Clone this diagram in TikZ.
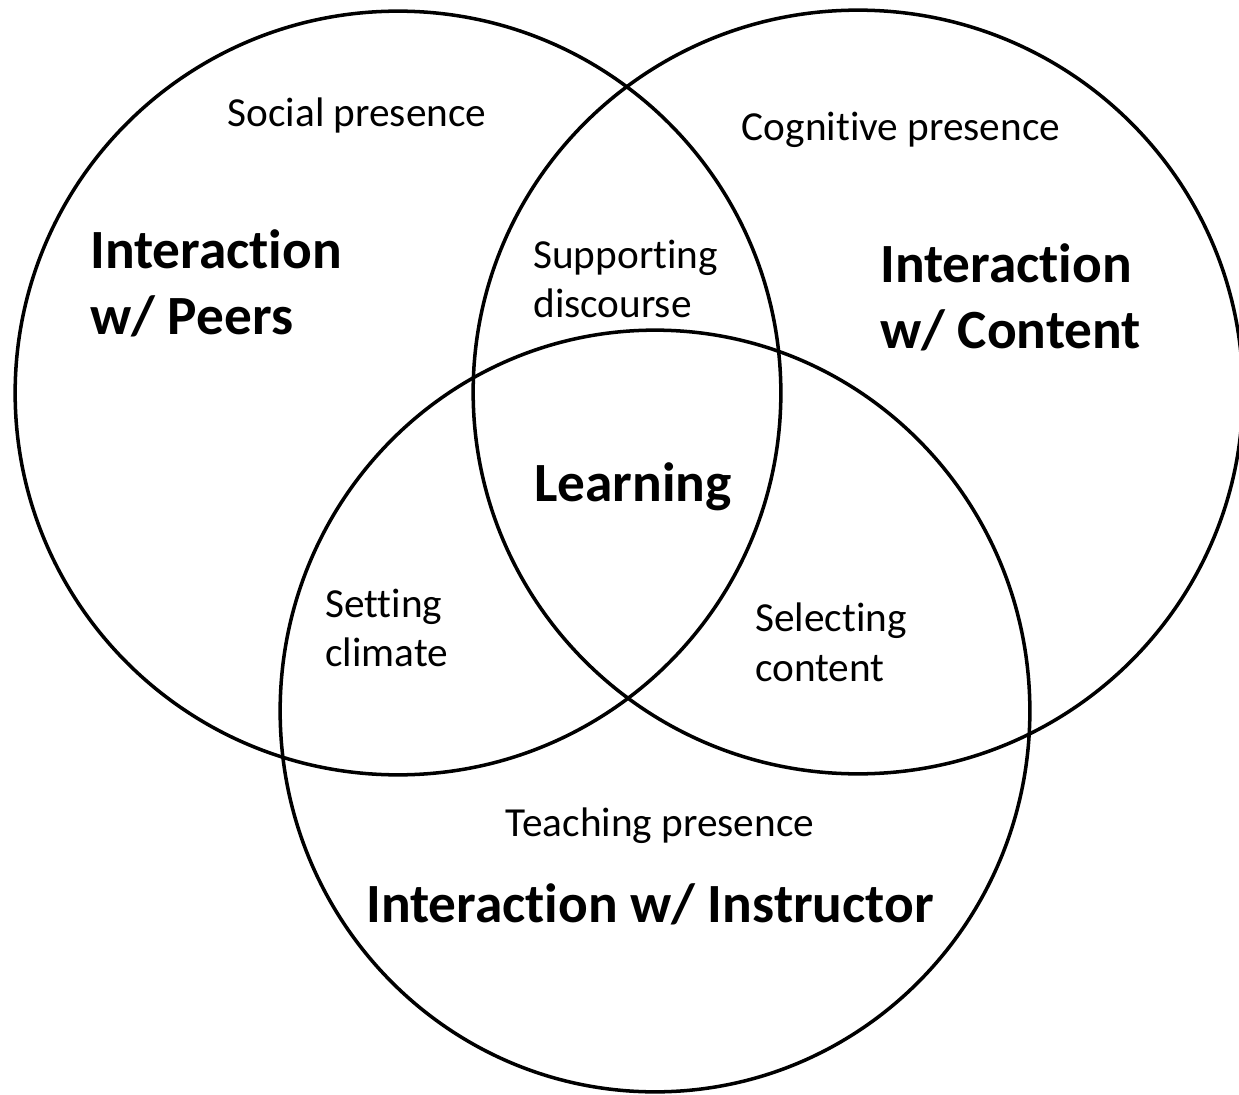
\documentclass[tikz,border=0pt]{standalone}
\usepackage{fontspec}
\setmainfont{Carlito}[Ligatures=NoCommon]
\usetikzlibrary{positioning, shapes.geometric}

\begin{document}
\begin{tikzpicture}[x=0.02cm, y=-0.02cm,
		ring/.style 2 args={draw=black, line width=2pt, ellipse, inner sep=0pt,
			minimum width=#1*0.04cm, minimum height=#2*0.04cm},
		small/.style={font=\fontsize{23.5}{28.3}\selectfont, inner sep=0pt, align=left},
		big/.style={font=\bfseries\fontsize{31.5}{37.4}\selectfont, inner sep=0pt, align=left}]
		\useasboundingbox (0,0) rectangle (1239,1094);
		% the three circles
		\node[ring={383}{382}] (peers) at (398,393) {};
		\node[ring={385}{382}] (content) at (858,392) {};
		\node[ring={375}{381}] (instr) at (655,711) {};
		% labels
		\node[small] (social) at (357,115) {Social presence};
		\node[small] (cogn) at (901,130) {Cognitive presence};
		\node[small] (teach) at (660,826) {Teaching presence};
		\node[big, anchor=west] (ipeers) at (90,283) {Interaction\\w/ Peers};
		\node[big, anchor=west] (icontent) at (880,297) {Interaction\\w/ Content};
		\node[big] (iinstr) at (650,904) {Interaction w/ Instructor};
		\node[big] (learn) at (633,487) {Learning};
		\node[small, anchor=west] (disc) at (533,279) {Supporting\\discourse};
		\node[small, anchor=west] (clim) at (325,628) {Setting\\climate};
		\node[small, anchor=west] (sel) at (755,642) {Selecting\\content};
	\end{tikzpicture}
\end{document}
